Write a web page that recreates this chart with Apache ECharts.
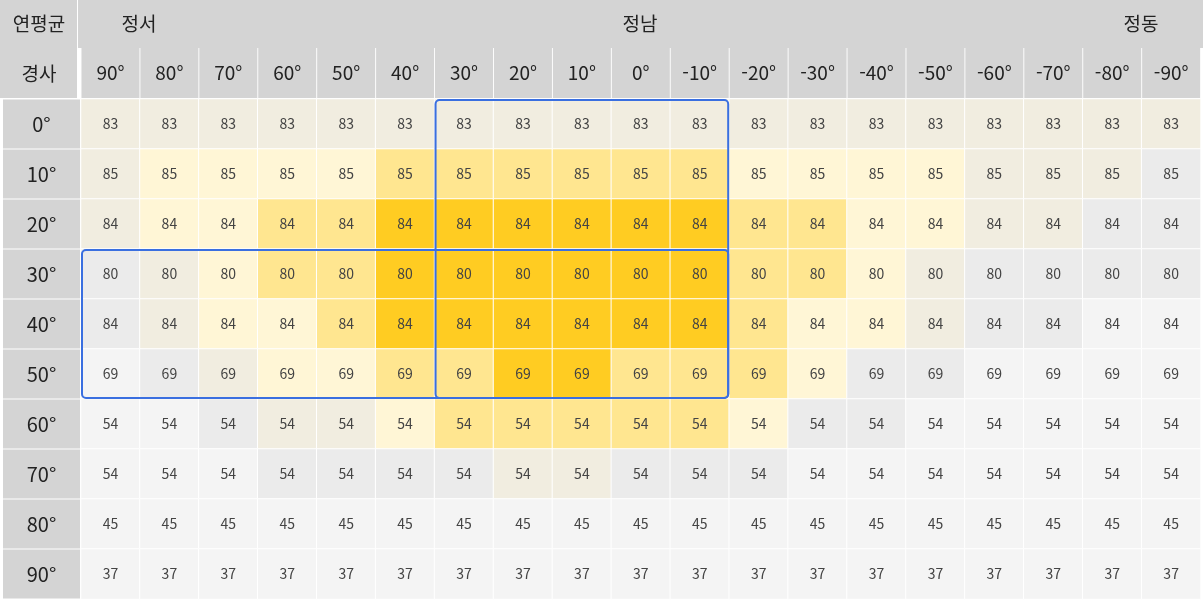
<!DOCTYPE html>
<html lang="ko">
<head>
<meta charset="UTF-8">
<title>연평균 경사 방위</title>
<script src="https://cdn.jsdelivr.net/npm/echarts@6/dist/echarts.min.js"></script>
<style>
  html, body { margin: 0; padding: 0; background: #fff; }
  #chart { width: 1203px; height: 601px; }
</style>
</head>
<body>
<div id="chart"></div>
<script>
// 방위 (정서 -> 정남 -> 정동)
var azimuths = ['90°','80°','70°','60°','50°','40°','30°','20°','10°','0°','-10°','-20°','-30°','-40°','-50°','-60°','-70°','-80°','-90°'];
// 경사
var slopes = ['0°','10°','20°','30°','40°','50°','60°','70°','80°','90°'];
// 각 경사의 연평균 값
var rowValues = [83, 85, 84, 80, 84, 69, 54, 54, 45, 37];
// 셀 색 단계 (0 연회색 ~ 5 진노랑), 경사별
var levels = [
  [2,2,2,2,2,2,2,2,2,2,2,2,2,2,2,2,2,2,2],
  [2,3,3,3,3,4,4,4,4,4,4,3,3,3,3,2,2,2,1],
  [2,3,3,4,4,5,5,5,5,5,5,4,4,3,3,2,2,1,1],
  [1,2,3,4,4,5,5,5,5,5,5,4,4,3,2,1,1,1,1],
  [1,2,3,3,4,5,5,5,5,5,5,4,3,3,2,1,1,0,0],
  [0,1,2,3,3,4,4,5,5,4,4,4,3,1,1,0,0,0,0],
  [0,0,1,2,2,3,4,4,4,4,4,3,1,1,0,0,0,0,0],
  [0,0,0,1,1,1,1,2,2,1,1,1,0,0,0,0,0,0,0],
  [0,0,0,0,0,0,0,0,0,0,0,0,0,0,0,0,0,0,0],
  [0,0,0,0,0,0,0,0,0,0,0,0,0,0,0,0,0,0,0]
];
var levelColors = ['#f4f4f4', '#ebebeb', '#f1ede0', '#fff6d6', '#ffe690', '#ffcc22'];
// 강조 박스 [시작열, 시작행, 끝열, 끝행]
var boxes = [[6, 0, 10, 5], [0, 3, 10, 5]];

var cells = [];
slopes.forEach(function (s, r) {
  azimuths.forEach(function (a, c) {
    cells.push([c, r, rowValues[r], levels[r][c]]);
  });
});

var HEAD = '#d4d4d4';
var FONT = 'Noto Sans CJK KR';
function headText(x, y, t) {
  return { type: 'text', x: x, y: y, style: { text: t, fontSize: 19, fill: '#222', align: 'center', verticalAlign: 'middle', fontFamily: FONT } };
}
var chart = echarts.init(document.getElementById('chart'));
chart.setOption({
  backgroundColor: '#fff',
  animation: false,
  textStyle: { fontFamily: 'Noto Sans CJK KR, Noto Sans, sans-serif' },
  grid: { left: 78, top: 99, right: 0, bottom: 2 },
  xAxis: {
    type: 'category', position: 'top', data: azimuths,
    axisLine: { show: false }, axisTick: { show: false }, splitLine: { show: false },
    axisLabel: {
      margin: 1, fontSize: 19, color: '#222',
      backgroundColor: HEAD, width: 58, height: 50, lineHeight: 50, align: 'center'
    }
  },
  yAxis: {
    type: 'category', inverse: true, data: slopes,
    axisLine: { show: false }, axisTick: { show: false }, splitLine: { show: false },
    axisLabel: {
      margin: 1, align: 'right',
      formatter: function (v) { return '{a|' + v + '}'; },
      rich: {
        a: { fontSize: 20, color: '#222', backgroundColor: HEAD, width: 77, height: 49, lineHeight: 49, align: 'center' }
      }
    }
  },
  visualMap: {
    show: false, type: 'piecewise', dimension: 3,
    pieces: levelColors.map(function (col, i) { return { value: i, color: col }; }),
    seriesIndex: 0
  },
  graphic: [
    { type: 'rect', shape: { x: 0, y: 0, width: 77, height: 48 }, style: { fill: HEAD } },
    { type: 'rect', shape: { x: 78, y: 0, width: 1125, height: 48 }, style: { fill: HEAD } },
    { type: 'rect', shape: { x: 0, y: 48, width: 77, height: 50 }, style: { fill: HEAD } },
    headText(39, 24, '연평균'),
    headText(139, 24, '정서'),
    headText(640, 24, '정남'),
    headText(1141, 24, '정동'),
    headText(39, 74, '경사')
  ],
  series: [
    {
      type: 'heatmap',
      data: cells,
      encode: { x: 0, y: 1, value: 2 },
      itemStyle: { borderColor: '#fff', borderWidth: 1 },
      label: { show: true, fontSize: 14, color: '#444', formatter: function (p) { return p.data[2]; } }
    },
    {
      type: 'custom',
      data: boxes,
      z: 10,
      silent: true,
      renderItem: function (params, api) {
        var p0 = api.coord([api.value(0), api.value(1)]);
        var p1 = api.coord([api.value(2), api.value(3)]);
        var s = api.size([1, 1]);
        return {
          type: 'rect',
          shape: {
            x: p0[0] - s[0] / 2 + 1, y: p0[1] - s[1] / 2 + 1,
            width: p1[0] - p0[0] + s[0] - 2, height: p1[1] - p0[1] + s[1] - 2, r: 4
          },
          style: { fill: null, stroke: '#3a6fe0', lineWidth: 2 }
        };
      }
    }
  ]
});
</script>
</body>
</html>
